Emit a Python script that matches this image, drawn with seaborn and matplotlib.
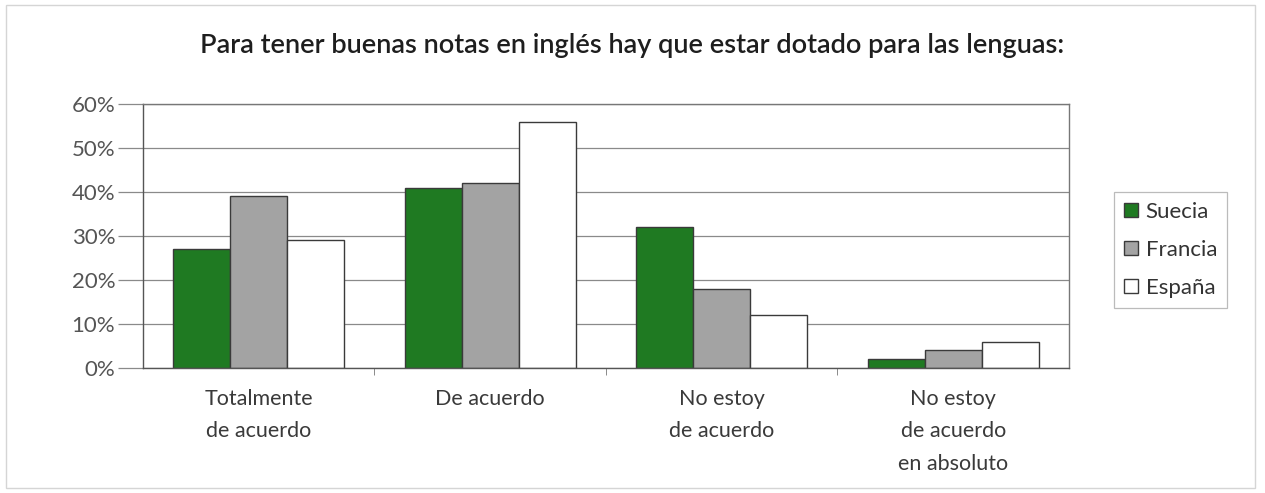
import matplotlib
matplotlib.use("Agg")
import matplotlib.pyplot as plt
import seaborn as sns
import pandas as pd
from matplotlib.patches import Rectangle, Patch
from matplotlib.ticker import FuncFormatter

categories = ["Totalmente\nde acuerdo", "De acuerdo", "No estoy\nde acuerdo",
              "No estoy\nde acuerdo\nen absoluto"]
countries = ["Suecia", "Francia", "España"]
suecia = [27, 41, 32, 2]
francia = [39, 42, 18, 4]
espana = [29, 56, 12, 6]
colors = ["#1f7a22", "#a3a3a3", "#ffffff"]
title = "Para tener buenas notas en inglés hay que estar dotado para las lenguas:"

rows = []
for c, vals in zip(countries, [suecia, francia, espana]):
    for cat, v in zip(categories, vals):
        rows.append({"cat": cat, "country": c, "value": v})
df = pd.DataFrame(rows)

sns.set_style("white")
plt.rcParams["font.family"] = ["Lato", "DejaVu Sans"]

fig = plt.figure(figsize=(12.65, 4.93), dpi=100)
ax = fig.add_axes([0.113, 0.2535, 0.732, 0.5355])

sns.barplot(data=df, x="cat", y="value", hue="country", order=categories,
            hue_order=countries, palette=colors, width=0.74, ax=ax,
            edgecolor="#3a3a3a", linewidth=1.0, saturation=1, legend=False)

ax.set_ylim(0, 60)
ax.set_xlim(-0.5, 3.5)
ax.set_yticks(range(0, 61, 10))
ax.yaxis.set_major_formatter(FuncFormatter(lambda v, p: f"{int(v)}%"))
ax.yaxis.grid(True, color="#8a8a8a", linewidth=0.9)
ax.set_axisbelow(True)
ax.set_xlabel("")
ax.set_ylabel("")
for s in ax.spines.values():
    s.set_visible(True)
    s.set_color("#555555")
    s.set_linewidth(1.0)
ax.spines["right"].set_color("#777777")
ax.spines["top"].set_color("#777777")

ax.set_xticks([0, 1, 2, 3])
ax.set_xticklabels(categories, fontsize=15.5, color="#3a3a3a", linespacing=1.78,
                   va="top")
ax.tick_params(axis="x", length=0, pad=15)
ax.tick_params(axis="y", length=18, color="#8a8a8a", width=0.9,
               labelsize=16, labelcolor="#555555", pad=2, left=True)
ax.set_xticks([0.5, 1.5, 2.5], minor=True)
ax.tick_params(axis="x", which="minor", length=5, color="#777777", bottom=True)

fig.text(0.5, 0.907, title, ha="center", va="center", fontsize=19.5,
         color="#1e1e1e", fontweight="semibold")

handles = [Patch(facecolor=c, edgecolor="#3a3a3a", label=n)
           for c, n in zip(colors, countries)]
leg = fig.legend(handles=handles, loc="center left",
                 bbox_to_anchor=(0.881, 0.493), frameon=True, fontsize=16,
                 handlelength=0.6, handleheight=0.6, handletextpad=0.35,
                 labelspacing=0.8, borderpad=0.45, borderaxespad=0,
                 fancybox=False, labelcolor="#333333")
leg.get_frame().set_edgecolor("#aaaaaa")
leg.get_frame().set_linewidth(0.9)

fig.add_artist(Rectangle((0.005, 0.01), 0.987, 0.98, transform=fig.transFigure,
                         fill=False, edgecolor="#d5d5d5", linewidth=1.0))

fig.savefig("out.png", dpi=100, facecolor="white")
